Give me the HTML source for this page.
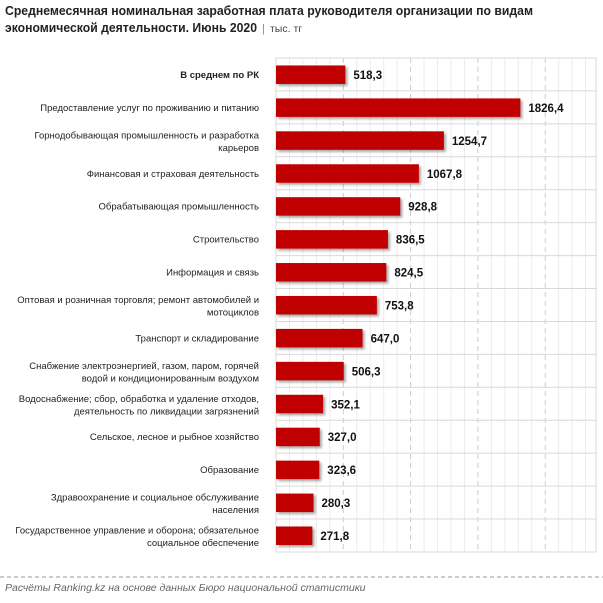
<!DOCTYPE html>
<html><head><meta charset="utf-8"><style>
body{margin:0;background:#fff;width:603px;height:598px;overflow:hidden;font-family:"Liberation Sans",sans-serif}
</style></head><body>
<svg width="603" height="598" xmlns="http://www.w3.org/2000/svg" font-family="Liberation Sans, sans-serif">
<defs><filter id="sh" x="-5%" y="-20%" width="115%" height="160%"><feDropShadow dx="2" dy="2" stdDeviation="1.2" flood-color="#000" flood-opacity="0.35"/></filter></defs>
<text x="5" y="15" font-size="12.5" font-weight="bold" fill="#222" textLength="528" lengthAdjust="spacingAndGlyphs">Среднемесячная номинальная заработная плата  руководителя организации по видам</text>
<text x="5" y="32" font-size="12.5" font-weight="bold" fill="#222" textLength="252" lengthAdjust="spacingAndGlyphs">экономической деятельности. Июнь 2020</text>
<text x="262" y="32" font-size="11" fill="#888">|</text>
<text x="270" y="32" font-size="10.5" fill="#444">тыс. тг</text>
<g id="grid"></g>
<rect x="276" y="58" width="320" height="494" fill="none" stroke="#d9d9d9"/>
<g id="bars"></g>
<line x1="0" y1="577" x2="603" y2="577" stroke="#999" stroke-dasharray="4,3"/>
<text x="5" y="591" font-size="10.5" font-style="italic" fill="#666">Расчёты Ranking.kz на основе данных  Бюро национальной  статистики</text>
</svg>
<script>
(function(){
var ns="http://www.w3.org/2000/svg";
function el(p,t,a,txt){var e=document.createElementNS(ns,t);for(var k in a)e.setAttribute(k,a[k]);if(txt)e.textContent=txt;p.appendChild(e);return e;}
var g=document.getElementById('grid'),b=document.getElementById('bars');
var x0=276,sc=0.1338,T=58,rh=32.93;
for(var v=100;v*0.1346<320;v+=100){var x=x0+v*0.1346;el(g,'line',v%500==0?{x1:x,y1:58,x2:x,y2:552,stroke:'#ccc','stroke-dasharray':'5,4'}:{x1:x,y1:58,x2:x,y2:552,stroke:'#ececec'});}
var d=[["В среднем по РК","",518.3,"518,3",1],["Предоставление услуг по проживанию и питанию","",1826.4,"1826,4"],["Горнодобывающая промышленность и разработка","карьеров",1254.7,"1254,7"],["Финансовая и страховая деятельность","",1067.8,"1067,8"],["Обрабатывающая промышленность","",928.8,"928,8"],["Строительство","",836.5,"836,5"],["Информация и связь","",824.5,"824,5"],["Оптовая и розничная торговля; ремонт автомобилей и","мотоциклов",753.8,"753,8"],["Транспорт и складирование","",647.0,"647,0"],["Снабжение электроэнергией, газом, паром, горячей","водой и кондиционированным воздухом",506.3,"506,3"],["Водоснабжение; сбор, обработка и удаление отходов,","деятельность по ликвидации загрязнений",352.1,"352,1"],["Сельское, лесное и рыбное хозяйство","",327.0,"327,0"],["Образование","",323.6,"323,6"],["Здравоохранение и социальное обслуживание","населения",280.3,"280,3"],["Государственное управление и оборона; обязательное","социальное обеспечение",271.8,"271,8"]];
d.forEach(function(r,i){var cy=T+rh*i+rh/2;
if(i>0)el(g,'line',{x1:276,y1:T+rh*i,x2:596,y2:T+rh*i,stroke:'#d9d9d9'});
var w=r[2]*sc;el(b,'rect',{x:x0,y:cy-9,width:w,height:18.5,fill:'#c00000',filter:'url(#sh)'});
el(b,'text',{x:x0+w+8,y:cy+4.5,'font-size':11.5,'font-weight':'bold',fill:'#111'},r[3]);
var fw=r[4]?'bold':'normal';
if(r[1]){el(b,'text',{x:259,y:cy-2,'font-size':9.5,'text-anchor':'end',fill:'#222'},r[0]);el(b,'text',{x:259,y:cy+10.5,'font-size':9.5,'text-anchor':'end',fill:'#222'},r[1]);}
else el(b,'text',{x:259,y:cy+3.5,'font-size':9.5,'text-anchor':'end','font-weight':fw,fill:'#222'},r[0]);
});
})();
</script>
</body></html>
